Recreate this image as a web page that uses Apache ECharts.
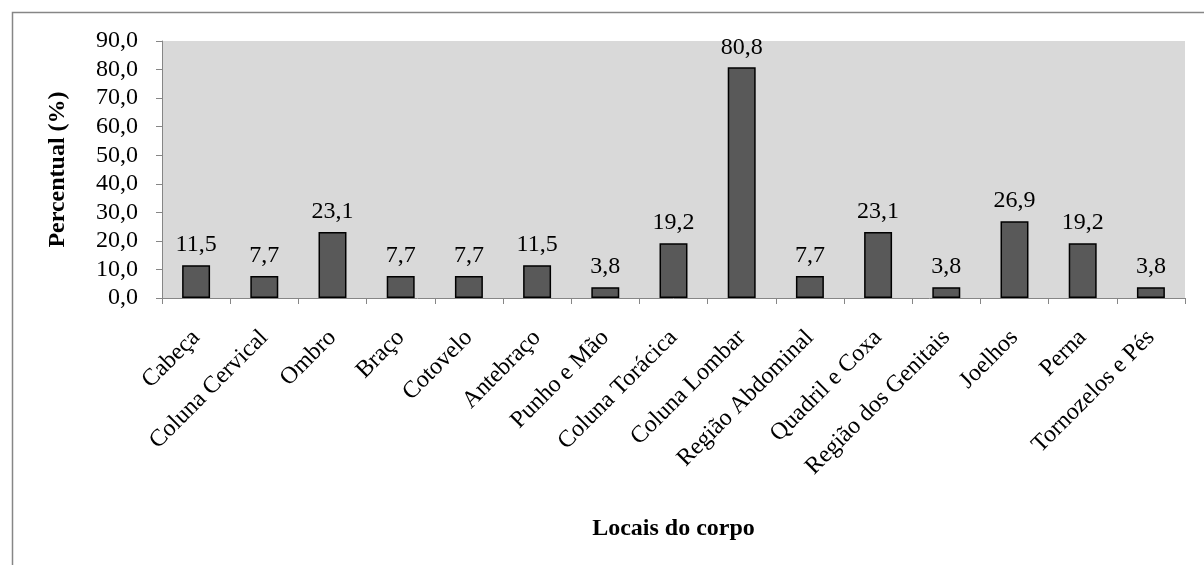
<!DOCTYPE html>
<html>
<head>
<meta charset="utf-8">
<script src="https://cdn.jsdelivr.net/npm/echarts@6/dist/echarts.min.js"></script>
<style>html,body{margin:0;padding:0;background:#fff;}#c{width:1204px;height:565px;}</style>
</head>
<body>
<div id="c"></div>
<script>
const categories = ['Cabeça','Coluna Cervical','Ombro','Braço','Cotovelo','Antebraço','Punho e Mão','Coluna Torácica','Coluna Lombar','Região Abdominal','Quadril e Coxa','Região dos Genitais','Joelhos','Perna','Tornozelos e Pés'];
const values = [11.5, 7.7, 23.1, 7.7, 7.7, 11.5, 3.8, 19.2, 80.8, 7.7, 23.1, 3.8, 26.9, 19.2, 3.8];
const yTicks = [0,10,20,30,40,50,60,70,80,90];

const font = 'Liberation Serif, Times New Roman, serif';
const fmt = v => Number(v).toFixed(1).replace('.', ',');
const chart = echarts.init(document.getElementById('c'));
chart.setOption({
  animation: false,
  backgroundColor: '#fff',
  graphic: [{type:'rect', shape:{x:12.5,y:12.5,width:1300,height:700}, style:{fill:'none', stroke:'#868686', lineWidth:1.5}, silent:true}],
  grid: {left:162, top:41, right:19, bottom:267, backgroundColor:'#d9d9d9', show:true, borderWidth:0},
  xAxis: {
    type:'category', data:categories,
    name:'Locais do corpo', nameLocation:'middle', nameGap:219,
    nameTextStyle:{fontFamily:font, fontSize:24, fontWeight:'bold', color:'#000'},
    axisLine:{lineStyle:{color:'#868686', width:1}},
    axisTick:{show:true, length:6, lineStyle:{color:'#868686'}},
    axisLabel:{rotate:45, interval:0, margin:36, fontFamily:font, fontSize:24, color:'#000'}
  },
  yAxis: {
    type:'value', min:yTicks[0], max:yTicks[yTicks.length-1], interval:10,
    name:'Percentual (%)', nameLocation:'middle', nameGap:92,
    nameTextStyle:{fontFamily:font, fontSize:24, fontWeight:'bold', color:'#000'},
    axisLine:{show:true, lineStyle:{color:'#868686', width:1}},
    axisTick:{show:true, length:6, lineStyle:{color:'#868686'}},
    splitLine:{show:false},
    axisLabel:{formatter:fmt, margin:24, fontFamily:font, fontSize:24, color:'#000'}
  },
  series: [{
    type:'bar', data:values, barWidth:'41%',
    itemStyle:{color:'#595959', borderColor:'#000', borderWidth:1.5},
    label:{show:true, position:'top', distance:8, formatter:p=>fmt(p.value), fontFamily:font, fontSize:24, color:'#000'}
  }]
});
</script>
</body>
</html>
